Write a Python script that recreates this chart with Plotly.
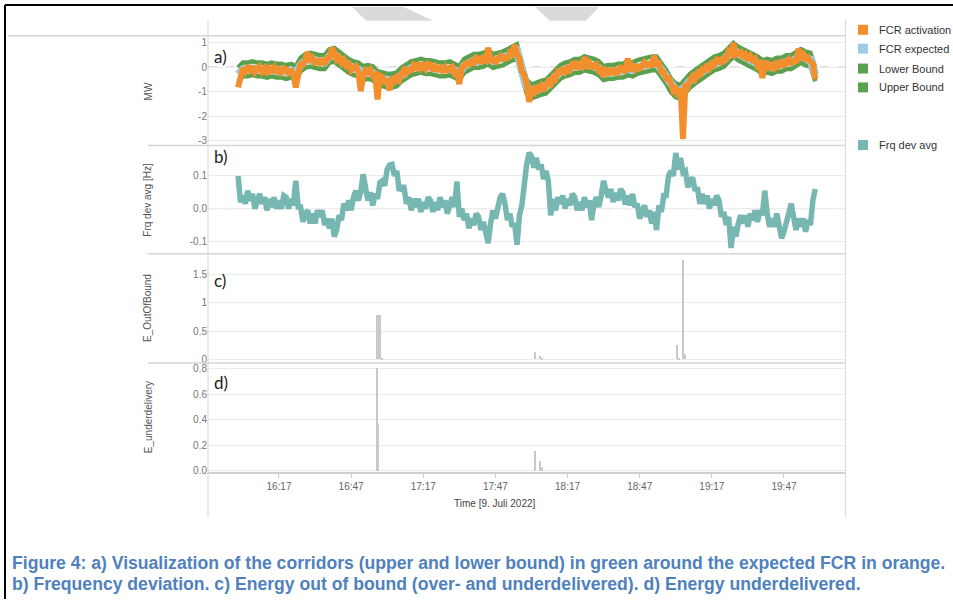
import plotly.graph_objects as go
import pandas as pd

W, H = 953, 603

# ---------------- data: 9 July 2022, 16:00-20:00 ----------------
# FCR activation [MW], 1-minute samples
fcr_activation = [
    -0.83, -0.32, -0.05, -0.18, 0.04, -0.12, 0.03, -0.21, -0.08, 0.01,
    -0.19, -0.07, -0.29, -0.04, -0.12, -0.01, -0.25, -0.11, -0.22, -0.05,
    -0.10, -0.30, -0.10, -0.28, -0.83, -0.12, 0.18, 0.05, 0.27, 0.60,
    0.21, 0.34, 0.11, 0.32, 0.18, 0.32, 0.10, 0.37, 0.38, 0.78,
    0.60, 0.31, 0.40, 0.17, 0.29, 0.06, 0.13, -0.13, -0.03, 0.04,
    -0.19, -0.98, -0.39, -0.14, -0.22, -0.11, -0.35, -0.31, -1.32, -0.35,
    -0.40, -0.65, -0.50, -0.95, -0.41, -0.57, -0.42, -0.53, -0.28, -0.12,
    -0.24, -0.04, -0.19, 0.07, -0.02, 0.15, -0.05, 0.07, -0.07, 0.13,
    0.10, -0.15, 0.00, -0.16, 0.04, -0.14, -0.02, -0.21, -0.03, 0.01,
    -0.24, -0.14, -0.70, -0.01, 0.03, 0.22, 0.05, 0.24, 0.18, 0.38,
    0.35, 0.16, 0.35, 0.27, 0.78, 0.29, 0.33, 0.15, 0.32, 0.44,
    0.26, 0.46, 0.31, 0.59, 0.53, 0.90, 0.55, 0.32, -0.17, -0.32,
    -0.70, -1.42, -0.95, -1.03, -0.76, -0.92, -0.77, -0.96, -0.78, -0.59,
    -0.69, -0.42, -0.49, -0.19, -0.22, -0.03, -0.20, -0.04, -0.12, 0.13,
    0.15, -0.07, 0.10, 0.02, 0.40, 0.09, 0.18, -0.06, 0.07, 0.11,
    -0.14, -0.09, -0.39, -0.14, -0.22, -0.08, -0.30, -0.14, -0.22, -0.02,
    -0.05, -0.22, 0.35, -0.16, 0.04, -0.09, 0.08, -0.11, 0.07, 0.19,
    0.01, 0.19, 0.01, 0.45, 0.13, 0.15, -0.20, -0.21, -0.47, -0.45,
    -0.65, -0.97, -0.90, -1.20, -0.86, -2.94, -0.67, -0.78, -0.53, -0.37,
    -0.49, -0.27, -0.39, -0.09, -0.12, 0.10, -0.05, 0.14, 0.08, 0.31,
    0.30, 0.13, 0.35, 0.32, 0.64, 0.56, 0.98, 0.50, 0.57, 0.61,
    0.36, 0.49, 0.26, 0.44, 0.28, 0.35, 0.05, 0.12, -0.45, 0.16,
    0.15, -0.10, 0.05, -0.03, 0.24, 0.06, 0.18, 0.02, 0.22, 0.31,
    0.11, 0.31, 0.16, 0.75, 0.43, 0.52, 0.25, 0.37, 0.23, 0.13,
    -0.50]

# FCR expected and corridor bounds [MW], 2-minute samples
fcr_expected = [
    -0.30, -0.10, -0.10, -0.05, -0.10, -0.10, -0.15, -0.10, -0.15, -0.15,
    -0.20, -0.15, -0.25, 0.10, 0.25, 0.30, 0.25, 0.20, 0.20, 0.45,
    0.50, 0.35, 0.15, 0.05, -0.05, -0.10, -0.25, -0.20, -0.25, -0.45,
    -0.50, -0.55, -0.55, -0.50, -0.30, -0.15, -0.05, 0.00, 0.05, 0.00,
    0.00, -0.05, -0.10, -0.10, -0.05, -0.15, -0.25, 0.05, 0.15, 0.25,
    0.25, 0.30, 0.40, 0.25, 0.30, 0.35, 0.45, 0.55, 0.65, -0.10,
    -0.80, -1.00, -0.90, -0.85, -0.80, -0.60, -0.35, -0.20, -0.10, -0.05,
    0.05, 0.05, 0.15, 0.10, 0.05, -0.05, -0.25, -0.20, -0.20, -0.15,
    -0.15, -0.05, -0.10, 0.00, 0.05, 0.10, 0.15, 0.15, -0.10, -0.40,
    -0.75, -0.95, -1.00, -0.75, -0.55, -0.40, -0.25, -0.10, 0.05, 0.15,
    0.20, 0.30, 0.50, 0.70, 0.55, 0.45, 0.40, 0.30, 0.15, 0.00,
    0.05, 0.00, 0.10, 0.10, 0.20, 0.20, 0.30, 0.45, 0.35, 0.30,
    -0.30]

lower_bound = [
    -0.58, -0.38, -0.38, -0.33, -0.38, -0.38, -0.43, -0.38, -0.43, -0.43,
    -0.48, -0.43, -0.53, -0.18, -0.03, 0.02, -0.03, -0.08, -0.08, 0.17,
    0.22, 0.07, -0.13, -0.23, -0.33, -0.38, -0.53, -0.48, -0.53, -0.73,
    -0.78, -0.83, -0.83, -0.78, -0.58, -0.43, -0.33, -0.28, -0.23, -0.28,
    -0.28, -0.33, -0.38, -0.38, -0.33, -0.43, -0.53, -0.23, -0.13, -0.03,
    -0.03, 0.02, 0.12, -0.03, 0.02, 0.07, 0.17, 0.27, 0.37, -0.38,
    -1.08, -1.28, -1.18, -1.13, -1.08, -0.88, -0.63, -0.48, -0.38, -0.33,
    -0.23, -0.23, -0.13, -0.18, -0.23, -0.33, -0.53, -0.48, -0.48, -0.43,
    -0.43, -0.33, -0.38, -0.28, -0.23, -0.18, -0.13, -0.13, -0.38, -0.68,
    -1.03, -1.23, -1.28, -1.03, -0.83, -0.68, -0.53, -0.38, -0.23, -0.13,
    -0.08, 0.02, 0.22, 0.42, 0.27, 0.17, 0.12, 0.02, -0.13, -0.28,
    -0.23, -0.28, -0.18, -0.18, -0.08, -0.08, 0.02, 0.17, 0.07, 0.02,
    -0.58]

upper_bound = [
    -0.02, 0.18, 0.18, 0.23, 0.18, 0.18, 0.13, 0.18, 0.13, 0.13,
    0.08, 0.13, 0.03, 0.38, 0.53, 0.58, 0.53, 0.48, 0.48, 0.73,
    0.78, 0.63, 0.43, 0.33, 0.23, 0.18, 0.03, 0.08, 0.03, -0.17,
    -0.22, -0.27, -0.27, -0.22, -0.02, 0.13, 0.23, 0.28, 0.33, 0.28,
    0.28, 0.23, 0.18, 0.18, 0.23, 0.13, 0.03, 0.33, 0.43, 0.53,
    0.53, 0.58, 0.68, 0.53, 0.58, 0.63, 0.73, 0.83, 0.93, 0.18,
    -0.52, -0.72, -0.62, -0.57, -0.52, -0.32, -0.07, 0.08, 0.18, 0.23,
    0.33, 0.33, 0.43, 0.38, 0.33, 0.23, 0.03, 0.08, 0.08, 0.13,
    0.13, 0.23, 0.18, 0.28, 0.33, 0.38, 0.43, 0.43, 0.18, -0.12,
    -0.47, -0.67, -0.72, -0.47, -0.27, -0.12, 0.03, 0.18, 0.33, 0.43,
    0.48, 0.58, 0.78, 0.98, 0.83, 0.73, 0.68, 0.58, 0.43, 0.28,
    0.33, 0.28, 0.38, 0.38, 0.48, 0.48, 0.58, 0.73, 0.63, 0.58,
    -0.02]

# Frequency deviation average [Hz], 1-minute samples
frq_dev_avg = [
    0.100, 0.020, 0.040, 0.015, 0.055, 0.025, 0.045, 0.000, 0.025, 0.045,
    0.015, 0.035, -0.005, 0.030, 0.005, 0.035, 0.000, 0.025, 0.000, 0.040,
    0.035, 0.000, 0.030, 0.010, 0.085, 0.005, 0.005, -0.040, -0.015, -0.005,
    -0.045, -0.015, -0.045, -0.005, -0.025, -0.005, -0.050, -0.030, -0.060, -0.030,
    -0.085, -0.065, -0.020, -0.035, 0.015, -0.005, 0.025, -0.005, 0.035, 0.055,
    0.025, 0.050, 0.105, 0.050, 0.025, 0.050, 0.010, 0.045, 0.030, 0.080,
    0.085, 0.070, 0.120, 0.133, 0.135, 0.100, 0.115, 0.055, 0.065, 0.065,
    0.015, 0.035, -0.005, 0.030, 0.005, 0.030, -0.010, 0.020, 0.000, 0.035,
    0.025, -0.010, 0.020, -0.005, 0.035, 0.005, 0.025, -0.015, 0.015, 0.035,
    0.005, 0.083, -0.025, 0.000, -0.035, -0.015, -0.060, -0.030, -0.050, -0.015,
    -0.025, -0.065, -0.040, -0.070, -0.105, -0.045, -0.005, -0.030, 0.015, 0.035,
    0.045, 0.015, -0.035, -0.015, -0.055, -0.045, -0.110, -0.020, 0.010, 0.095,
    0.135, 0.170, 0.160, 0.125, 0.155, 0.120, 0.135, 0.090, 0.115, 0.085,
    -0.020, 0.030, -0.005, 0.035, 0.015, 0.040, 0.000, 0.030, 0.010, 0.045,
    0.035, -0.005, 0.020, -0.005, 0.035, 0.005, 0.025, -0.035, 0.015, 0.035,
    0.005, 0.040, 0.085, 0.055, 0.035, 0.060, 0.020, 0.048, 0.025, 0.060,
    0.050, 0.013, 0.040, 0.010, 0.045, 0.005, 0.015, -0.030, -0.005, 0.010,
    -0.025, -0.005, -0.045, -0.010, -0.065, 0.010, -0.010, 0.040, 0.040, 0.100,
    0.115, 0.100, 0.170, 0.120, 0.155, 0.110, 0.115, 0.065, 0.085, 0.095,
    0.055, 0.065, 0.015, 0.045, 0.015, 0.040, 0.000, 0.030, 0.010, 0.040,
    0.025, -0.025, -0.010, -0.050, -0.025, -0.120, -0.055, -0.085, -0.045, -0.020,
    -0.045, -0.020, -0.055, -0.015, -0.035, -0.005, -0.040, -0.005, -0.020, 0.055,
    -0.015, -0.055, -0.030, -0.055, -0.015, -0.050, -0.090, -0.070, -0.035, -0.015,
    0.015, -0.025, -0.065, -0.030, -0.055, -0.030, -0.070, -0.035, -0.050, 0.025,
    0.060]

# Energy out of bound / underdelivered (bar charts)
oob_times = ["16:57:45", "16:58:25", "16:59:05", "16:59:50",
             "18:03:45", "18:05:30", "18:06:30",
             "19:02:30", "19:03:15", "19:05:15", "19:06:00"]
oob_values = [0.78, 0.78, 0.78, 0.03, 0.12, 0.05, 0.02, 0.26, 0.03, 1.75, 0.10]

under_times = ["16:57:45", "16:58:10", "18:03:45", "18:05:30", "18:06:30"]
under_values = [0.81, 0.37, 0.16, 0.08, 0.03]

tick_labels = ["16:17", "16:47", "17:17", "17:47", "18:17", "18:47", "19:17", "19:47"]
DAY = "2022-07-09 "

t_act = pd.date_range(DAY + "16:00", periods=len(fcr_activation), freq="1min")
t_exp = pd.date_range(DAY + "16:00", periods=len(fcr_expected), freq="2min")
t_frq = pd.date_range(DAY + "16:00", periods=len(frq_dev_avg), freq="1min")

# ---------------- helpers ----------------
def px(x):
    return x / W

def py(y):
    return 1 - y / H

ORANGE, LBLUE, GREEN, TEAL = "#f28e2b", "#a0cbe8", "#59a14f", "#76b7b2"
BARC = "#c9c9c9"
FONT = "Liberation Sans, Arial, sans-serif"

fig = go.Figure()
fig.add_trace(go.Scatter(x=t_exp, y=lower_bound, mode="lines", name="Lower Bound",
                         line=dict(color=GREEN, width=4.5), xaxis="x", yaxis="y"))
fig.add_trace(go.Scatter(x=t_exp, y=upper_bound, mode="lines", name="Upper Bound",
                         line=dict(color=GREEN, width=4.5), xaxis="x", yaxis="y"))
fig.add_trace(go.Scatter(x=t_exp, y=fcr_expected, mode="lines", name="FCR expected",
                         line=dict(color=LBLUE, width=8), xaxis="x", yaxis="y"))
fig.add_trace(go.Scatter(x=t_act, y=fcr_activation, mode="lines", name="FCR activation",
                         line=dict(color=ORANGE, width=6), xaxis="x", yaxis="y"))
fig.add_trace(go.Scatter(x=t_frq, y=frq_dev_avg, mode="lines", name="Frq dev avg",
                         line=dict(color=TEAL, width=5.5), xaxis="x2", yaxis="y2"))
fig.add_trace(go.Bar(x=[DAY + t for t in oob_times], y=oob_values, width=40000,
                     marker=dict(color=BARC, line=dict(width=0)), xaxis="x3", yaxis="y3"))
fig.add_trace(go.Bar(x=[DAY + t for t in under_times], y=under_values, width=40000,
                     marker=dict(color=BARC, line=dict(width=0)), xaxis="x4", yaxis="y4"))

xdom = [px(208), px(845)]
xrange_ = [DAY + "15:47:30", DAY + "20:12:22"]
tickfont = dict(family=FONT, size=10, color="#777777")

common_x = dict(domain=xdom, range=xrange_, type="date", showgrid=False, zeroline=False,
                showline=False, showticklabels=False, fixedrange=True)
ycommon = dict(showgrid=True, gridcolor="#ececec", gridwidth=1, zeroline=False,
               showline=False, ticks="", tickfont=tickfont, fixedrange=True)

fig.update_layout(
    width=W, height=H, autosize=False,
    margin=dict(l=0, r=0, t=0, b=0),
    paper_bgcolor="white", plot_bgcolor="white",
    showlegend=False, barmode="overlay", bargap=0,
    xaxis=dict(common_x, anchor="y"),
    xaxis2=dict(common_x, anchor="y2"),
    xaxis3=dict(common_x, anchor="y3"),
    xaxis4=dict(common_x, anchor="y4", showticklabels=True, ticks="outside", ticklen=4,
                tickcolor="#cccccc", tickvals=[DAY + t for t in tick_labels],
                ticktext=tick_labels, tickfont=dict(family=FONT, size=10, color="#666666"),
                showline=True, linecolor="#d0d0d0", linewidth=1.5),
    yaxis=dict(ycommon, domain=[py(146), py(36)], range=[-3.18, 1.275],
               tickvals=[1, 0, -1, -2, -3], ticktext=["1", "0", "-1", "-2", "-3"], anchor="x"),
    yaxis2=dict(ycommon, domain=[py(255), py(147)], range=[-0.136, 0.191],
                tickvals=[0.1, 0.0, -0.1], ticktext=["0.1", "0.0", "-0.1"], anchor="x2"),
    yaxis3=dict(ycommon, domain=[py(365), py(256)], range=[-0.053, 1.86],
                tickvals=[0, 0.5, 1, 1.5], ticktext=["0", "0.5", "1", "1.5"], anchor="x3"),
    yaxis4=dict(ycommon, domain=[py(475), py(366)], range=[-0.008, 0.84],
                tickvals=[0, 0.2, 0.4, 0.6, 0.8], ticktext=["0.0", "0.2", "0.4", "0.6", "0.8"],
                anchor="x4"),
)

shapes = []
LINEC = "#d4d4d4"
shapes.append(dict(type="line", xref="x domain", yref="y", x0=0, x1=1, y0=0, y1=0,
                   line=dict(color="#bbbbbb", width=1, dash="dash"), layer="below"))
shapes.append(dict(type="line", xref="x2 domain", yref="y2", x0=0, x1=1, y0=0, y1=0,
                   line=dict(color="#bbbbbb", width=1, dash="dash"), layer="below"))
shapes.append(dict(type="line", xref="paper", yref="paper", x0=px(8), x1=px(845),
                   y0=py(36), y1=py(36), line=dict(color=LINEC, width=1.5)))
for yy in (146.5, 255.5, 365.5):
    shapes.append(dict(type="line", xref="paper", yref="paper", x0=px(148), x1=px(845),
                       y0=py(yy), y1=py(yy), line=dict(color=LINEC, width=1.5)))
for xx in (208, 845.5):
    shapes.append(dict(type="line", xref="paper", yref="paper", x0=px(xx), x1=px(xx),
                       y0=py(20), y1=py(521), line=dict(color="#dcdcdc", width=1.2)))
shapes.append(dict(type="line", xref="paper", yref="paper", x0=px(5), x1=px(5),
                   y0=py(5), y1=py(603), line=dict(color="black", width=2)))
shapes.append(dict(type="line", xref="paper", yref="paper", x0=px(5), x1=px(953),
                   y0=py(5), y1=py(5), line=dict(color="black", width=2)))

def poly(pts):
    return "M " + " L ".join(f"{px(a):.4f} {py(b):.4f}" for a, b in pts) + " Z"

shapes.append(dict(type="path", xref="paper", yref="paper",
                   path=poly([(352, 7), (404, 7), (433, 21), (366, 21)]),
                   fillcolor="#dadada", line=dict(width=0)))
shapes.append(dict(type="path", xref="paper", yref="paper",
                   path=poly([(535, 7), (599, 7), (586, 21), (550, 21)]),
                   fillcolor="#dadada", line=dict(width=0)))

legend_items = [("FCR activation", ORANGE, 30), ("FCR expected", LBLUE, 49),
                ("Lower Bound", GREEN, 69), ("Upper Bound", GREEN, 88),
                ("Frq dev avg", TEAL, 146)]
for _, col, yc in legend_items:
    shapes.append(dict(type="rect", xref="paper", yref="paper", x0=px(858), x1=px(868),
                       y0=py(yc + 5), y1=py(yc - 5), fillcolor=col, line=dict(width=0)))

annotations = []
for name, _, yc in legend_items:
    annotations.append(dict(text=name, xref="paper", yref="paper", x=px(877), y=py(yc),
                            xanchor="left", yanchor="middle", showarrow=False,
                            font=dict(family=FONT, size=11, color="#333333")))
for lab, yc in (("a)", 57), ("b)", 158), ("c)", 282), ("d)", 385)):
    annotations.append(dict(text=lab, xref="paper", yref="paper", x=px(212), y=py(yc),
                            xanchor="left", yanchor="middle", showarrow=False,
                            font=dict(family="Lato, Open Sans, sans-serif", size=17, color="#222222")))
for lab, yc in (("MW", 92), ("Frq dev avg [Hz]", 201), ("E_OutOfBound", 310), ("E_underdelivery", 420)):
    annotations.append(dict(text=lab, xref="paper", yref="paper", x=px(148), y=py(yc),
                            xanchor="center", yanchor="middle", textangle=-90, showarrow=False,
                            font=dict(family=FONT, size=10, color="#555555")))
annotations.append(dict(text="Time [9. Juli 2022]", xref="paper", yref="paper", x=px(495), y=py(507),
                        xanchor="center", yanchor="middle", showarrow=False,
                        font=dict(family=FONT, size=10, color="#444444")))
CAP = "#4f81bd"
CAPFONT = dict(family="Liberation Sans, Arial", size=17.6, color=CAP)
annotations.append(dict(text="<b>Figure 4: a) Visualization of the corridors (upper and lower bound) in green around the expected FCR in orange.</b>",
                        xref="paper", yref="paper", x=px(10), y=py(567), xanchor="left", yanchor="middle",
                        showarrow=False, font=CAPFONT))
annotations.append(dict(text="<b>b) Frequency deviation. c) Energy out of bound (over- and underdelivered). d) Energy underdelivered.</b>",
                        xref="paper", yref="paper", x=px(10), y=py(588), xanchor="left", yanchor="middle",
                        showarrow=False, font=CAPFONT))

fig.update_layout(shapes=shapes, annotations=annotations)
fig.write_html("out.html")
